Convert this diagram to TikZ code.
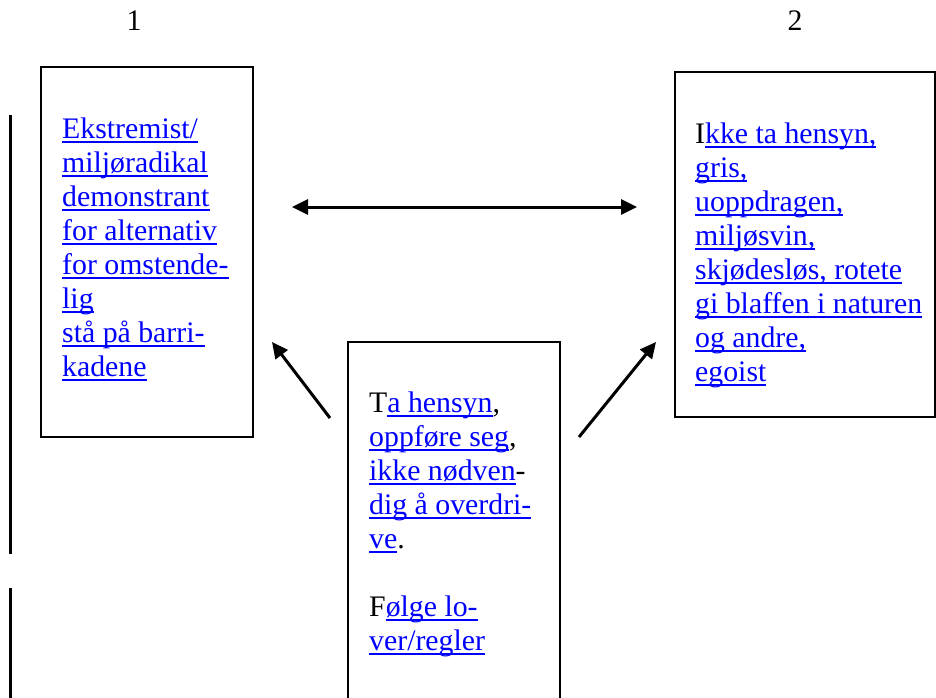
\documentclass[tikz,border=0pt]{standalone}
\usepackage{fontspec}
\setmainfont{Liberation Serif}
\usetikzlibrary{arrows.meta}
\definecolor{linkblue}{RGB}{0,0,255}
% underlined blue link text
\newsavebox\lnkbox
\newcommand\lnk[1]{\sbox\lnkbox{\color{linkblue}#1}\rlap{\color{linkblue}\rule[-4.6pt]{\wd\lnkbox}{2pt}}\usebox\lnkbox}
\tikzset{
  box/.style={draw=black, line width=2pt, inner sep=0pt},
  txt/.style={anchor=base west, inner sep=0pt, font=\fontsize{29.8}{34}\selectfont},
  num/.style={anchor=base, inner sep=0pt, font=\fontsize{29.8}{34}\selectfont},
  arr/.style={line width=3pt, -{Triangle[length=16pt,width=15pt]}},
  darr/.style={line width=3pt, {Triangle[length=16pt,width=15pt]}-{Triangle[length=16pt,width=15pt]}},
}
\begin{document}
\begin{tikzpicture}[x=1pt, y=-1pt]
\useasboundingbox (0,0) rectangle (936,697);
\clip (0,0) rectangle (936,697);

% column numbers
\node[num] (n1) at (134,30) {1};
\node[num] (n2) at (795,30) {2};

% margin rule
\draw[line width=3pt] (10,115) -- (10,554);
\draw[line width=3pt] (10,588) -- (10,700);

% boxes
\node[box, minimum width=212pt, minimum height=370pt] (b1) at (147,252) {};
\node[box, minimum width=260pt, minimum height=345pt] (b2) at (805,244.5) {};
\node[box, minimum width=212pt, minimum height=380pt] (b3) at (454,532) {};

% box 1 text
\node[txt] (a1) at (62,138) {\lnk{Ekstremist/}};
\node[txt] (a2) at (62,172) {\lnk{miljøradikal}};
\node[txt] (a3) at (62,206) {\lnk{demonstrant}};
\node[txt] (a4) at (62,240) {\lnk{for alternativ}};
\node[txt] (a5) at (62,274) {\lnk{for omstende-}};
\node[txt] (a6) at (62,308) {\lnk{lig}};
\node[txt] (a7) at (62,342) {\lnk{stå på barri-}};
\node[txt] (a8) at (62,376) {\lnk{kadene}};

% box 2 text
\node[txt] (c1) at (695,143) {I\lnk{kke ta hensyn,}};
\node[txt] (c2) at (695,177) {\lnk{gris,}};
\node[txt] (c3) at (695,211) {\lnk{uoppdragen,}};
\node[txt] (c4) at (695,245) {\lnk{miljøsvin,}};
\node[txt] (c5) at (695,279) {\lnk{skjødesløs, rotete}};
\node[txt] (c6) at (695,313) {\lnk{gi blaffen i naturen}};
\node[txt] (c7) at (695,347) {\lnk{og andre,}};
\node[txt] (c8) at (695,381) {\lnk{egoist}};

% box 3 text
\node[txt] (m1) at (369,412) {T\lnk{a hensyn},};
\node[txt] (m2) at (369,446) {\lnk{oppføre seg},};
\node[txt] (m3) at (369,480) {\lnk{ikke nødven}-};
\node[txt] (m4) at (369,514) {\lnk{dig å overdri-}};
\node[txt] (m5) at (369,548) {\lnk{ve}.};
\node[txt] (m6) at (369,616) {F\lnk{ølge lo-}};
\node[txt] (m7) at (369,650) {\lnk{ver/regler}};

% connector end points
\coordinate (dl) at (292,207);
\coordinate (dr) at (637,207);
\coordinate (lt) at (330,418);
\coordinate (lh) at (272,342);
\coordinate (rt) at (579,437);
\coordinate (rh) at (656,342);

\draw[darr] (dl) -- (dr);
\draw[arr] (lt) -- (lh);
\draw[arr] (rt) -- (rh);
\end{tikzpicture}
\end{document}
